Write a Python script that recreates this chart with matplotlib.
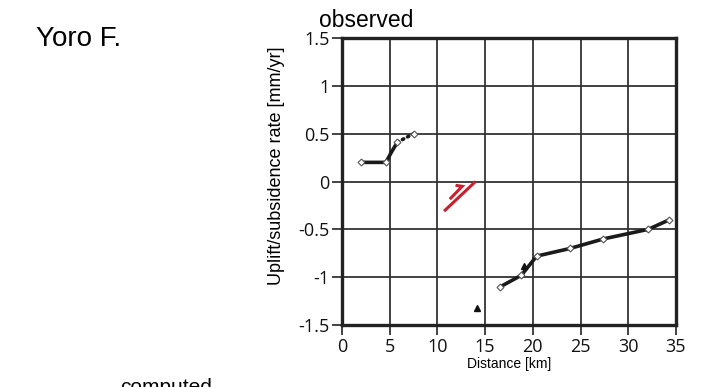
import matplotlib.pyplot as plt
import numpy as np

plt.rcParams['font.family'] = ['Liberation Sans', 'DejaVu Sans']

# observed profile, western block (solid part + dotted extension)
west_x = [2.0, 4.6, 5.2, 5.8]
west_y = [0.2, 0.2, 0.31, 0.41]
west_dot_x = [5.8, 7.5]
west_dot_y = [0.41, 0.5]

# observed profile, eastern block
east_x = [16.6, 18.8, 19.6, 20.4, 23.9, 27.4, 32.1, 34.3]
east_y = [-1.1, -0.98, -0.88, -0.78, -0.7, -0.6, -0.5, -0.4]

# sample points drawn with open diamonds
west_pts_x = [2.0, 4.6, 5.8, 7.5]
west_pts_y = [0.2, 0.2, 0.41, 0.5]
east_pts_x = [16.6, 18.8, 20.4, 23.9, 27.4, 32.1, 34.3]
east_pts_y = [-1.1, -0.98, -0.78, -0.7, -0.6, -0.5, -0.4]

# survey benchmarks shown as triangles
tri_x = [19.1, 14.1]
tri_y = [-0.88, -1.32]

xticks = [0, 5, 10, 15, 20, 25, 30, 35]
yticks = [-1.5, -1, -0.5, 0, 0.5, 1, 1.5]
ytick_labels = ['-1.5', '-1', '-0.5', '0', '0.5', '1', '1.5']

fig = plt.figure(figsize=(7.07, 3.87), dpi=100)
ax = fig.add_axes([0.4837, 0.1602, 0.4724, 0.7416])

ax.set_xlim(0, 35)
ax.set_ylim(-1.5, 1.5)
ax.set_xticks(xticks)
ax.set_yticks(yticks)
ax.set_yticklabels(ytick_labels)
ax.grid(True, color='#333333', linewidth=1.3)
ax.set_axisbelow(True)

for side in ['left', 'right', 'top', 'bottom']:
    ax.spines[side].set_linewidth(2.4)
    ax.spines[side].set_color('#222222')

ax.tick_params(axis='both', direction='out', length=7, width=1.2, color='#222222',
               labelsize=13, pad=2)
ax.tick_params(top=False, right=False)
for lab in ax.get_xticklabels() + ax.get_yticklabels():
    lab.set_family(['Open Sans', 'DejaVu Sans'])
    lab.set_color('#111111')

# profiles
ax.plot(west_x, west_y, color='#1a1a1a', linewidth=2.6, solid_capstyle='round')
ax.plot(west_dot_x, west_dot_y, color='#1a1a1a', linewidth=2.6, linestyle=(0, (0.4, 1.2)),
        dash_capstyle='round')
ax.plot(east_x, east_y, color='#1a1a1a', linewidth=2.6, solid_capstyle='round')

ax.plot(west_pts_x, west_pts_y, linestyle='none', marker='D', markersize=3.5,
        markerfacecolor='white', markeredgecolor='#555555', markeredgewidth=0.8)
ax.plot(east_pts_x, east_pts_y, linestyle='none', marker='D', markersize=3.5,
        markerfacecolor='white', markeredgecolor='#555555', markeredgewidth=0.8)

ax.plot(tri_x, tri_y, linestyle='none', marker='^', markersize=5, color='#111111')

# fault symbol with half-arrow
red = '#c8202e'
ax.plot([10.7, 14.0], [-0.31, 0.0], color=red, linewidth=2.2, solid_capstyle='butt')
ax.plot([11.3, 12.6, 11.9], [-0.185, -0.05, -0.04], color=red, linewidth=2.2,
        solid_capstyle='butt', solid_joinstyle='miter')

ax.set_xlabel('Distance [km]', fontsize=10, labelpad=1)
ax.set_ylabel('Uplift/subsidence rate [mm/yr]', fontsize=13)
ax.yaxis.set_label_coords(-0.172, 0.555)

fig.text(0.518, 0.947, 'observed', fontsize=16.5, ha='center', va='center')
fig.text(0.051, 0.9, 'Yoro F.', fontsize=20, ha='left', va='center')
fig.text(0.17, -0.025, 'computed', fontsize=15, ha='left', va='bottom')

fig.savefig('out.png', dpi=100)
